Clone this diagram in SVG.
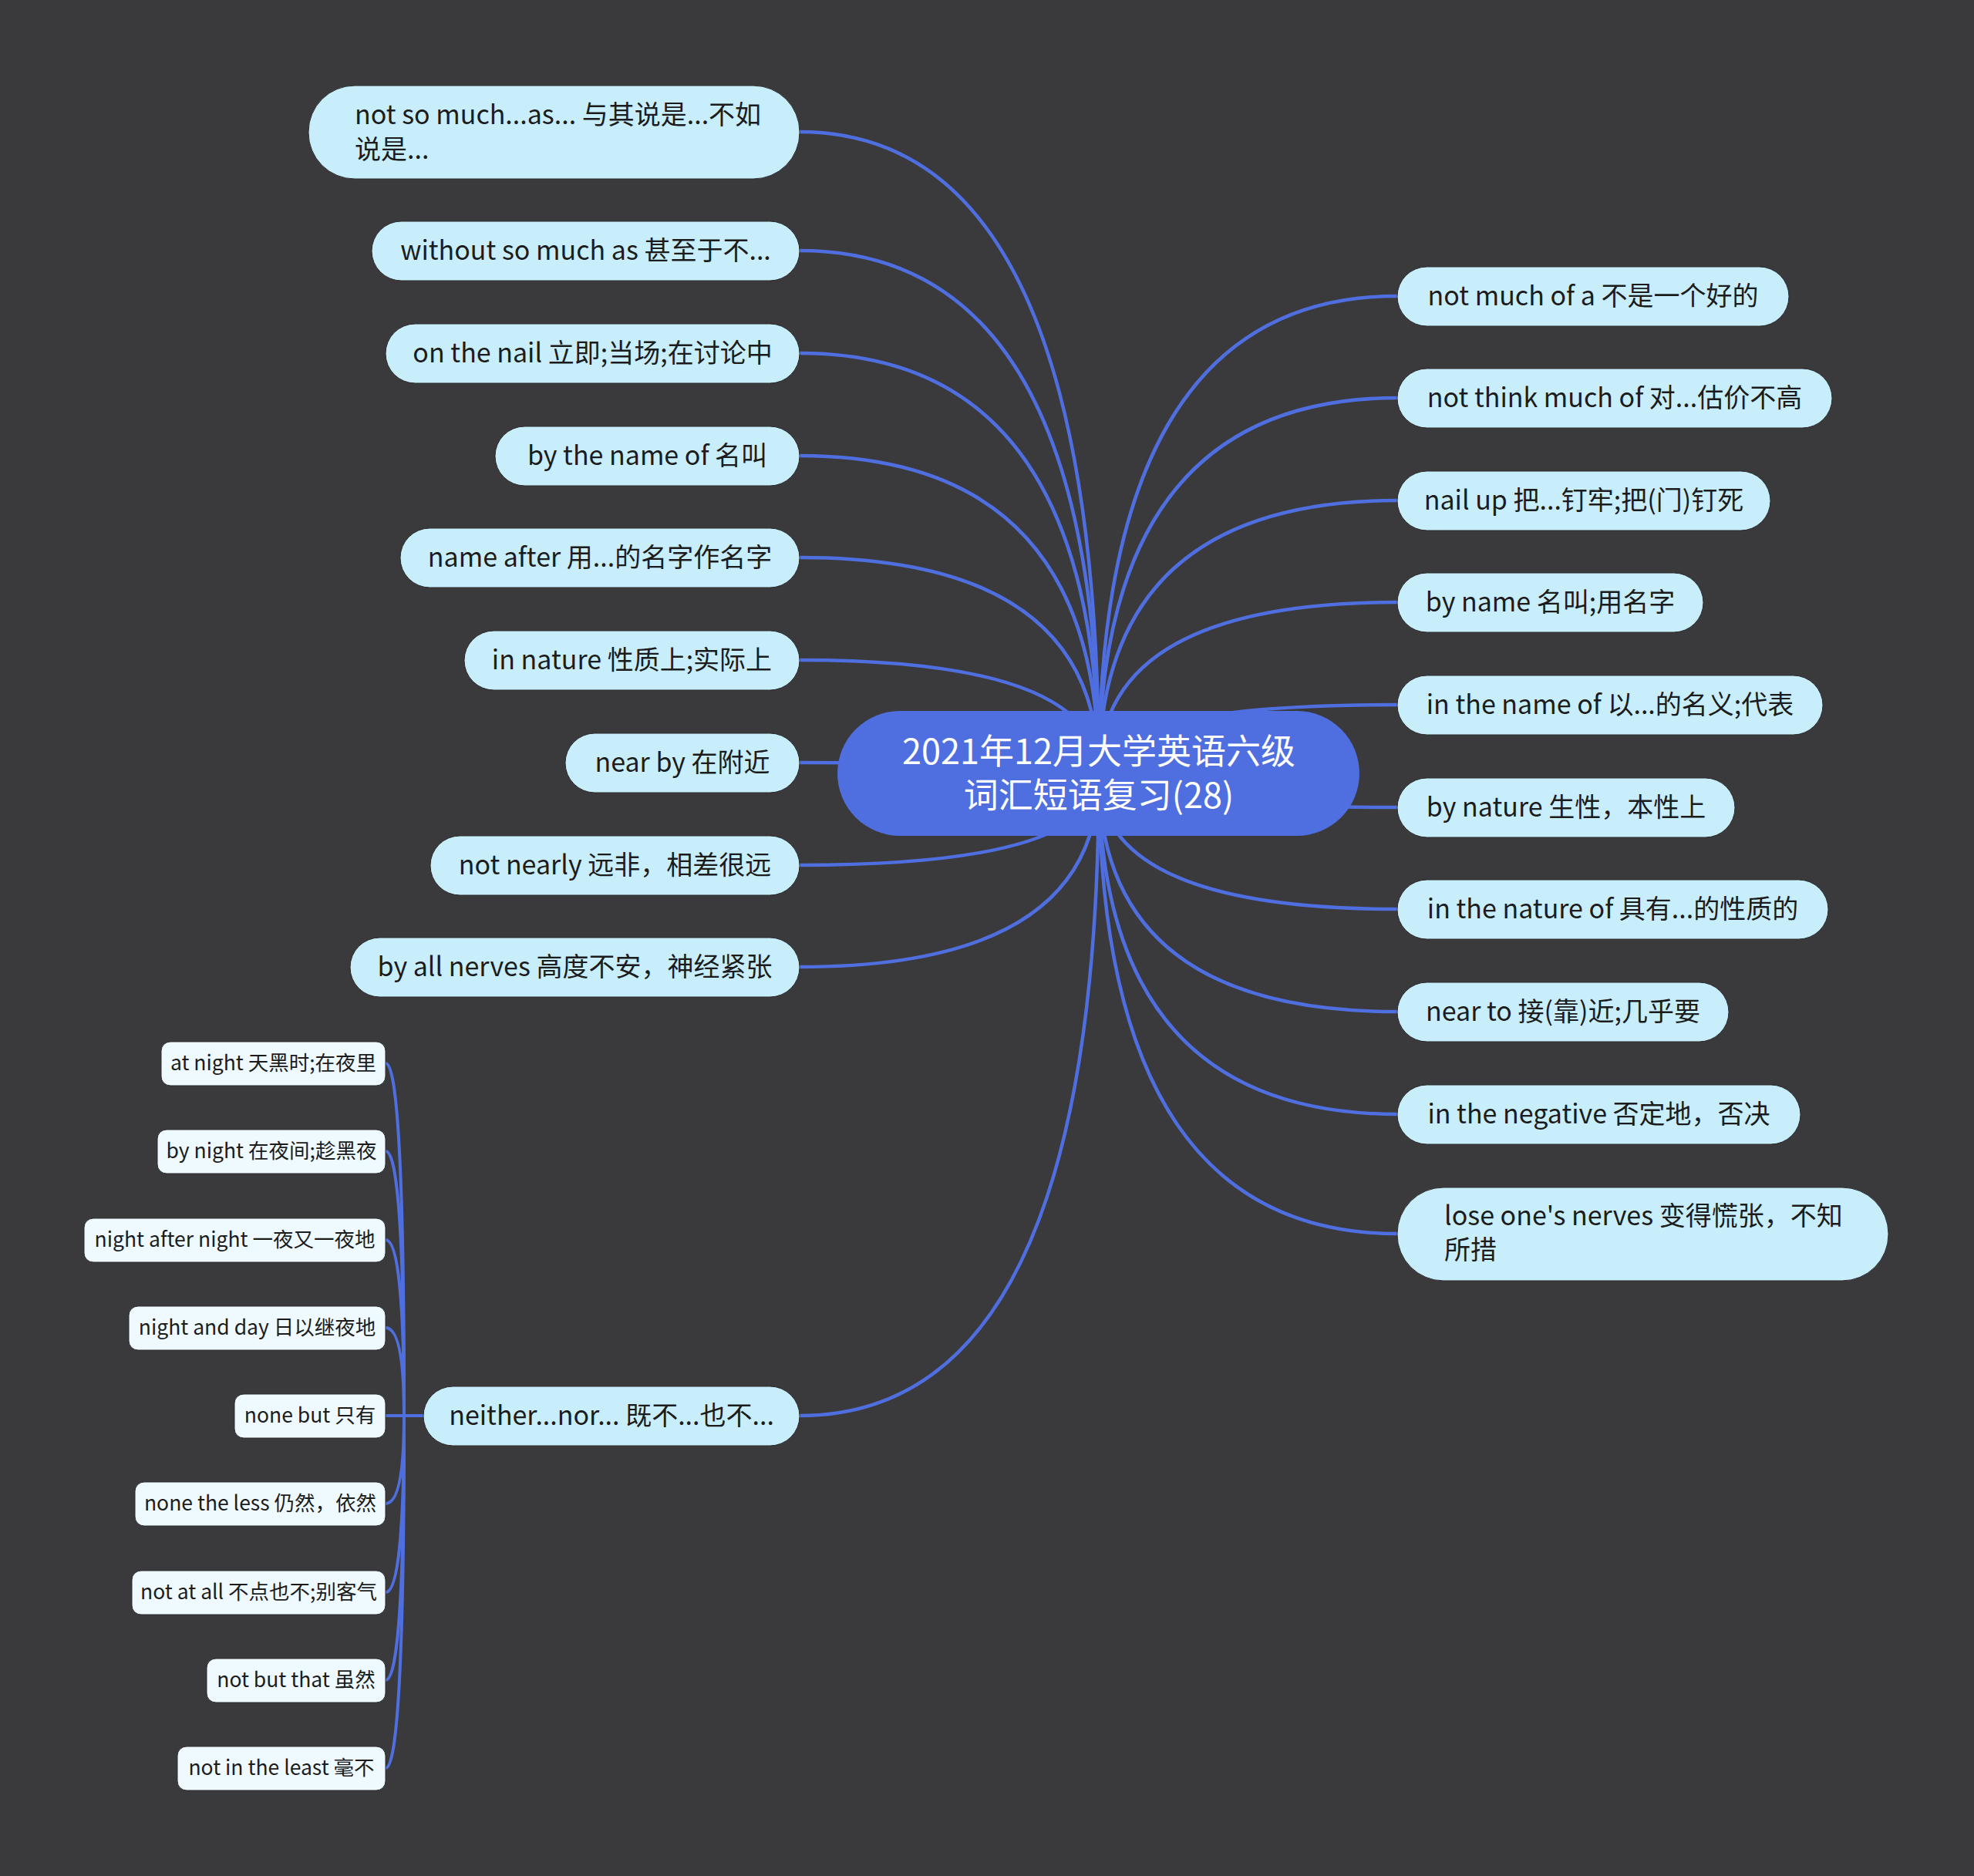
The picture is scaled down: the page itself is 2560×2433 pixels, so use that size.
<svg xmlns="http://www.w3.org/2000/svg" width="2560" height="2433" viewBox="0 0 2560 2433">
<defs>
<style>
.bg{fill:#3a393b}
.ln{fill:none;stroke:#4f6fe0;stroke-width:4.5;stroke-linecap:round}
.sl{fill:none;stroke:#4f6fe0;stroke-width:4;stroke-linecap:round}
.nd{fill:#c8eefc;stroke:#2c2c2e;stroke-width:1}
.sn{fill:#eefaff;stroke:#2c2c2e;stroke-width:1}
.rt{fill:#4f6fe0}
text{font-family:"Noto Sans CJK SC","Noto Sans",sans-serif;fill:#1c1c1c}
.t{font-size:34px;text-anchor:middle}
.tl{font-size:34px;text-anchor:start}
.s{font-size:26.5px;text-anchor:middle}
.r{font-size:45px;text-anchor:middle;fill:#ffffff}
</style>
</defs>
<rect class="bg" x="0" y="0" width="2560" height="2433"/>
<g id="connectors">
<path class="ln" d="M1425,1004 Q1425,171 1037,171"/>
<path class="ln" d="M1425,1004 Q1425,325 1037,325"/>
<path class="ln" d="M1425,1004 Q1425,458 1037,458"/>
<path class="ln" d="M1425,1004 Q1425,591 1037,591"/>
<path class="ln" d="M1425,1004 Q1425,723 1037,723"/>
<path class="ln" d="M1425,1004 Q1425,856 1037,856"/>
<path class="ln" d="M1425,1004 Q1425,989 1037,989"/>
<path class="ln" d="M1425,1004 Q1425,1122 1037,1122"/>
<path class="ln" d="M1425,1004 Q1425,1254 1037,1254"/>
<path class="ln" d="M1425,1004 Q1425,1836 1037,1836"/>
<path class="ln" d="M1425,1004 Q1425,384 1812,384"/>
<path class="ln" d="M1425,1004 Q1425,516 1812,516"/>
<path class="ln" d="M1425,1004 Q1425,649 1812,649"/>
<path class="ln" d="M1425,1004 Q1425,781 1812,781"/>
<path class="ln" d="M1425,1004 Q1425,914 1812,914"/>
<path class="ln" d="M1425,1004 Q1425,1047 1812,1047"/>
<path class="ln" d="M1425,1004 Q1425,1179 1812,1179"/>
<path class="ln" d="M1425,1004 Q1425,1312 1812,1312"/>
<path class="ln" d="M1425,1004 Q1425,1445 1812,1445"/>
<path class="ln" d="M1425,1004 Q1425,1600 1812,1600"/>
<path class="sl" d="M500,1379 Q524,1379 524,1836 L549,1836"/>
<path class="sl" d="M500,1493 Q524,1493 524,1836 L549,1836"/>
<path class="sl" d="M500,1608 Q524,1608 524,1836 L549,1836"/>
<path class="sl" d="M500,1722 Q524,1722 524,1836 L549,1836"/>
<path class="sl" d="M500,1836 L549,1836"/>
<path class="sl" d="M500,1950 Q524,1950 524,1836 L549,1836"/>
<path class="sl" d="M500,2065 Q524,2065 524,1836 L549,1836"/>
<path class="sl" d="M500,2179 Q524,2179 524,1836 L549,1836"/>
<path class="sl" d="M500,2293 Q524,2293 524,1836 L549,1836"/>
</g>
<g id="root">
<rect class="rt" x="1086" y="922" width="677" height="162" rx="81"/>
<text class="r"><tspan x="1425" y="991">2021年12月大学英语六级</tspan><tspan x="1425" y="1048">词汇短语复习(28)</tspan></text>
</g>
<g id="n-l1"><rect class="nd" x="400" y="111" width="637" height="121" rx="60"/><text class="tl"><tspan x="460" y="161">not so much...as... 与其说是...不如</tspan><tspan x="460" y="206">说是...</tspan></text></g>
<g id="n-l2"><rect class="nd" x="482" y="287" width="555" height="77" rx="38.5"/><text class="t" x="759.5" y="337">without so much as 甚至于不...</text></g>
<g id="n-l3"><rect class="nd" x="500" y="420" width="537" height="77" rx="38.5"/><text class="t" x="768.5" y="470">on the nail 立即;当场;在讨论中</text></g>
<g id="n-l4"><rect class="nd" x="642" y="553" width="395" height="77" rx="38.5"/><text class="t" x="839.5" y="603">by the name of 名叫</text></g>
<g id="n-l5"><rect class="nd" x="519" y="685" width="518" height="77" rx="38.5"/><text class="t" x="778" y="735">name after 用...的名字作名字</text></g>
<g id="n-l6"><rect class="nd" x="602" y="818" width="435" height="77" rx="38.5"/><text class="t" x="819.5" y="868">in nature 性质上;实际上</text></g>
<g id="n-l7"><rect class="nd" x="733" y="951" width="304" height="77" rx="38.5"/><text class="t" x="885" y="1001">near by 在附近</text></g>
<g id="n-l8"><rect class="nd" x="558" y="1084" width="479" height="77" rx="38.5"/><text class="t" x="797.5" y="1134">not nearly 远非，相差很远</text></g>
<g id="n-l9"><rect class="nd" x="454" y="1216" width="583" height="77" rx="38.5"/><text class="t" x="745.5" y="1266">by all nerves 高度不安，神经紧张</text></g>
<g id="n-l10"><rect class="nd" x="549" y="1798" width="488" height="77" rx="38.5"/><text class="t" x="793" y="1848">neither...nor... 既不...也不...</text></g>
<g id="n-r1"><rect class="nd" x="1812" y="346" width="508" height="77" rx="38.5"/><text class="t" x="2066" y="396">not much of a 不是一个好的</text></g>
<g id="n-r2"><rect class="nd" x="1812" y="478" width="564" height="77" rx="38.5"/><text class="t" x="2094" y="528">not think much of 对...估价不高</text></g>
<g id="n-r3"><rect class="nd" x="1812" y="611" width="484" height="77" rx="38.5"/><text class="t" x="2054" y="661">nail up 把...钉牢;把(门)钉死</text></g>
<g id="n-r4"><rect class="nd" x="1812" y="743" width="397" height="77" rx="38.5"/><text class="t" x="2010.5" y="793">by name 名叫;用名字</text></g>
<g id="n-r5"><rect class="nd" x="1812" y="876" width="552" height="77" rx="38.5"/><text class="t" x="2088" y="926">in the name of 以...的名义;代表</text></g>
<g id="n-r6"><rect class="nd" x="1812" y="1009" width="438" height="77" rx="38.5"/><text class="t" x="2031" y="1059">by nature 生性，本性上</text></g>
<g id="n-r7"><rect class="nd" x="1812" y="1141" width="559" height="77" rx="38.5"/><text class="t" x="2091.5" y="1191">in the nature of 具有...的性质的</text></g>
<g id="n-r8"><rect class="nd" x="1812" y="1274" width="430" height="77" rx="38.5"/><text class="t" x="2027" y="1324">near to 接(靠)近;几乎要</text></g>
<g id="n-r9"><rect class="nd" x="1812" y="1407" width="523" height="77" rx="38.5"/><text class="t" x="2073.5" y="1457">in the negative 否定地，否决</text></g>
<g id="n-r10"><rect class="nd" x="1812" y="1540" width="637" height="121" rx="60"/><text class="tl"><tspan x="1873" y="1589">lose one's nerves 变得慌张，不知</tspan><tspan x="1873" y="1633">所措</tspan></text></g>
<g id="n-s1"><rect class="sn" x="209" y="1351" width="291" height="57" rx="12"/><text class="s" x="354.5" y="1388">at night 天黑时;在夜里</text></g>
<g id="n-s2"><rect class="sn" x="204" y="1465" width="296" height="57" rx="12"/><text class="s" x="352" y="1502">by night 在夜间;趁黑夜</text></g>
<g id="n-s3"><rect class="sn" x="109" y="1580" width="391" height="57" rx="12"/><text class="s" x="304.5" y="1617">night after night 一夜又一夜地</text></g>
<g id="n-s4"><rect class="sn" x="167" y="1694" width="333" height="57" rx="12"/><text class="s" x="333.5" y="1731">night and day 日以继夜地</text></g>
<g id="n-s5"><rect class="sn" x="304" y="1808" width="196" height="57" rx="12"/><text class="s" x="402" y="1845">none but 只有</text></g>
<g id="n-s6"><rect class="sn" x="175" y="1922" width="325" height="57" rx="12"/><text class="s" x="337.5" y="1959">none the less 仍然，依然</text></g>
<g id="n-s7"><rect class="sn" x="171" y="2037" width="329" height="57" rx="12"/><text class="s" x="335.5" y="2074">not at all 不点也不;别客气</text></g>
<g id="n-s8"><rect class="sn" x="268" y="2151" width="232" height="57" rx="12"/><text class="s" x="384" y="2188">not but that 虽然</text></g>
<g id="n-s9"><rect class="sn" x="230" y="2265" width="270" height="57" rx="12"/><text class="s" x="365" y="2302">not in the least 毫不</text></g>
</svg>
